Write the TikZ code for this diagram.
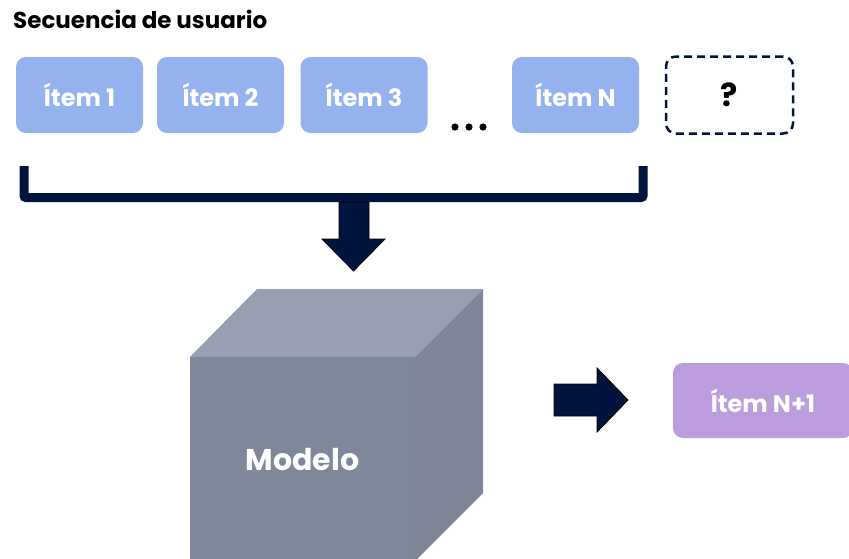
\documentclass[tikz,border=0pt]{standalone}
\usepackage{fontspec}
\setmainfont{Poppins}
\usetikzlibrary{shapes.arrows}
\definecolor{itemblue}{HTML}{94B3EE}
\definecolor{navy}{HTML}{00143E}
\definecolor{itempurple}{HTML}{BB9DDE}
\definecolor{cubetop}{HTML}{989FB0}
\definecolor{cubefront}{HTML}{7F889B}
\definecolor{cuberight}{HTML}{7E8698}
\begin{document}
\begin{tikzpicture}[x=1pt,y=-1pt,
  itembox/.style={rounded corners=10pt, minimum width=127pt, minimum height=76pt, inner sep=0pt, text=white, font=\bfseries\fontsize{24}{28}\selectfont},
  bigarrow/.style={fill=navy, draw=black, line width=0.8pt, line join=miter}]
\useasboundingbox (0,0) rectangle (849,558);
\node[anchor=base west, inner sep=0pt, font=\bfseries\fontsize{23}{26}\selectfont] (title) at (13,28) {Secuencia de usuario};
\node[itembox, fill=itemblue] (i1) at (79.5,95) {Ítem 1};
\node[itembox, fill=itemblue] (i2) at (220.5,95) {Ítem 2};
\node[itembox, fill=itemblue] (i3) at (364,95) {Ítem 3};
\node[itembox, fill=itemblue] (iN) at (575.5,95) {Ítem N};
\node[itembox, draw=navy, dashed, dash pattern=on 8pt off 5pt, line width=2.5pt, text=black, minimum width=127pt, minimum height=77pt, font=\bfseries\fontsize{32}{36}\selectfont] (q) at (729.5,95) {?};
\foreach \xx/\nm in {455/d1,469/d2,483/d3} \fill[black] (\xx,127) circle (3.6pt) coordinate (\nm);
% bracket
\coordinate (bl) at (24,166);
\coordinate (br) at (643,166);
\draw[navy, line width=9pt, rounded corners=2pt] (bl) -- (24,197.5) -- (643,197.5) -- (br);
% down arrow
\draw[bigarrow] (339,202) -- (369,202) -- (369,239) -- (385,239) -- (353.5,271) -- (322,239) -- (339,239) -- cycle;
% cube
\fill[cubetop] (190,357) -- (257,289) -- (483,289) -- (415,357) -- cycle;
\fill[cuberight] (415,357) -- (483,289) -- (483,493) -- (415,561) -- cycle;
\fill[cubefront] (190,357) rectangle (415,561);
\node[text=white, font=\bfseries\fontsize{30}{34}\selectfont] (model) at (302.5,460) {Modelo};
% right arrow
\draw[bigarrow] (554,384) -- (597,384) -- (597,368) -- (628,400) -- (597,432) -- (597,416) -- (554,416) -- cycle;
\node[itembox, fill=itempurple, minimum width=180pt, minimum height=75pt] (iN1) at (763,400.5) {Ítem N+1};
\end{tikzpicture}
\end{document}
